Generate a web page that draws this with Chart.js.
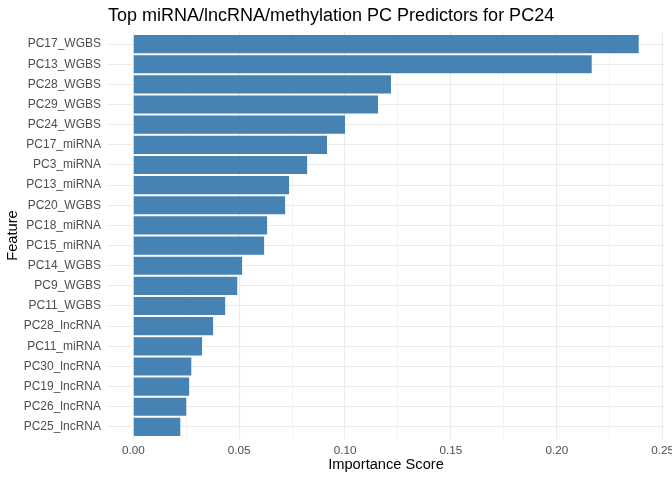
<!DOCTYPE html>
<html>
<head>
<meta charset="utf-8">
<script src="https://cdn.jsdelivr.net/npm/chart.js@4.4.1/dist/chart.umd.min.js"></script>
<style>
html,body{margin:0;padding:0;background:#fff;}
#wrap{width:672px;height:480px;position:relative;}
</style>
</head>
<body>
<div id="wrap"><canvas id="c" width="672" height="480"></canvas></div>
<script>
const chartTitle = "Top miRNA/lncRNA/methylation PC Predictors for PC24";
const xTitle = "Importance Score";
const yTitle = "Feature";
const features = [
  "PC17_WGBS","PC13_WGBS","PC28_WGBS","PC29_WGBS","PC24_WGBS",
  "PC17_miRNA","PC3_miRNA","PC13_miRNA","PC20_WGBS","PC18_miRNA",
  "PC15_miRNA","PC14_WGBS","PC9_WGBS","PC11_WGBS","PC28_lncRNA",
  "PC11_miRNA","PC30_lncRNA","PC19_lncRNA","PC26_lncRNA","PC25_lncRNA"
];
const importance = [
  0.2387,0.2165,0.1217,0.1156,0.1000,
  0.0915,0.0821,0.0736,0.0717,0.0632,
  0.0618,0.0514,0.0491,0.0434,0.0377,
  0.0325,0.0274,0.0264,0.0250,0.0222
];
const xTicks = [0,0.025,0.05,0.075,0.10,0.125,0.15,0.175,0.20,0.225,0.25];
const xMajor = [0,0.05,0.10,0.15,0.20,0.25];

const FONT = "'Liberation Sans', Arial, sans-serif";
const maxVal = Math.max(...importance);

const titlePlugin = {
  id: 'ggTitle',
  afterDraw(chart) {
    const ctx = chart.ctx;
    ctx.save();
    ctx.font = "18px " + FONT;
    ctx.fillStyle = "#000";
    ctx.textAlign = "left";
    ctx.textBaseline = "alphabetic";
    ctx.fillText(chartTitle, chart.chartArea.left, 21);
    ctx.restore();
  }
};

new Chart(document.getElementById('c'), {
  type: 'bar',
  data: {
    labels: features,
    datasets: [{
      data: importance,
      backgroundColor: '#4682B4',
      borderWidth: 0,
      barPercentage: 0.9,
      categoryPercentage: 1.0
    }]
  },
  plugins: [titlePlugin],
  options: {
    indexAxis: 'y',
    responsive: false,
    animation: false,
    devicePixelRatio: 1,
    layout: { padding: { left: 0, right: 8, top: 32, bottom: 0 } },
    plugins: { legend: { display: false }, tooltip: { enabled: false }, title: { display: false } },
    scales: {
      x: {
        type: 'linear',
        min: -0.05 * maxVal,
        max: 1.05 * maxVal,
        afterBuildTicks(scale) { scale.ticks = xTicks.map(v => ({ value: v })); },
        afterFit(scale) { scale.height = 41; scale.paddingLeft = 0; scale.paddingRight = 0; },
        border: { display: false },
        grid: {
          drawTicks: false,
          color: '#EBEBEB',
          lineWidth: (c) => (xMajor.some(m => Math.abs(m - c.tick.value) < 1e-9) ? 1.1 : 0.6)
        },
        ticks: {
          autoSkip: false,
          maxRotation: 0,
          padding: 5,
          color: '#4D4D4D',
          font: { family: FONT, size: 11.7 },
          callback: (v) => (xMajor.some(m => Math.abs(m - v) < 1e-9) ? Number(v).toFixed(2) : '')
        },
        title: {
          display: true,
          text: xTitle,
          color: '#000',
          font: { family: FONT, size: 14.67 },
          padding: { top: 0, bottom: 6 }
        }
      },
      y: {
        type: 'category',
        offset: false,
        afterBuildTicks(scale) {
          // ggplot discrete expansion: 0.6 category units on each side
          scale._startValue = -0.6;
          scale._valueRange = features.length - 1 + 1.2;
        },
        afterFit(scale) { scale.width = 108; scale.paddingTop = 0; scale.paddingBottom = 0; },
        border: { display: false },
        grid: { offset: false, drawTicks: false, color: '#EBEBEB', lineWidth: 1.1 },
        ticks: {
          autoSkip: false,
          padding: 7,
          color: '#4D4D4D',
          font: { family: FONT, size: 12 }
        },
        title: {
          display: true,
          text: yTitle,
          color: '#000',
          font: { family: FONT, size: 14.67 },
          padding: { top: 4, bottom: 0 }
        }
      }
    }
  }
});
</script>
</body>
</html>
